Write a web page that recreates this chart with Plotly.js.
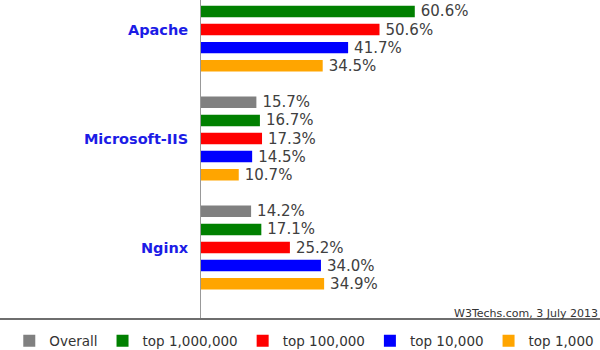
<!DOCTYPE html>
<html>
<head>
<meta charset="utf-8">
<script src="https://cdn.plot.ly/plotly-3.0.1.min.js"></script>
<style>
  html, body { margin: 0; padding: 0; background: #fff; }
  #chart { width: 600px; height: 350px; }
</style>
</head>
<body>
<div id="chart"></div>
<script>
// ---- data ----
var categories = ['Apache', 'Microsoft-IIS', 'Nginx'];
var seriesNames = ['Overall', 'top 1,000,000', 'top 100,000', 'top 10,000', 'top 1,000'];
var overall  = [null, 15.7, 14.2];   // Apache "Overall" bar is cropped out of the reference
var top1m    = [60.6, 16.7, 17.1];
var top100k  = [50.6, 17.3, 25.2];
var top10k   = [41.7, 14.5, 34.0];
var top1k    = [34.5, 10.7, 34.9];
var sourceNote = 'W3Techs.com, 3 July 2013';

// ---- style ----
var seriesValues = [overall, top1m, top100k, top10k, top1k];
var seriesColors = ['#808080', '#008000', '#ff0000', '#0000ff', '#ffa500'];
var FONT = 'DejaVu Sans, Verdana, sans-serif';

var traces = seriesValues.map(function (vals, i) {
  var ys = [], xs = [];
  vals.forEach(function (v, j) {
    if (v !== null) { ys.push(categories[j]); xs.push(v); }
  });
  return {
    type: 'bar',
    orientation: 'h',
    name: seriesNames[i],
    y: ys,
    x: xs,
    marker: { color: seriesColors[i], line: { width: 0 } },
    texttemplate: '\u2009%{x:.1f}%',
    textposition: 'outside',
    textangle: 0,
    constraintext: 'none',
    cliponaxis: true,
    textfont: { family: FONT, size: 15, color: '#404040' },
    hoverinfo: 'skip'
  };
});

var layout = {
  width: 600,
  height: 350,
  margin: { l: 201, r: 0, t: 0, b: 31, autoexpand: false },
  paper_bgcolor: '#ffffff',
  plot_bgcolor: '#ffffff',
  barmode: 'group',
  bargap: 0.17,
  bargroupgap: 0.365,
  showlegend: true,
  legend: {
    orientation: 'h',
    x: -0.4805, xanchor: 'left',
    y: -0.069, yanchor: 'middle',
    font: { family: FONT, size: 13.5, color: '#333333' },
    bgcolor: 'rgba(0,0,0,0)',
    borderwidth: 0
  },
  xaxis: {
    visible: false,
    range: [0, 113.1],
    fixedrange: true
  },
  yaxis: {
    type: 'category',
    categoryorder: 'array',
    categoryarray: categories,
    range: [2.656, -0.271],
    showline: true,
    linecolor: '#999999',
    linewidth: 1,
    showgrid: false,
    zeroline: false,
    ticks: '',
    ticklabelstandoff: 9,
    tickfont: { family: FONT, size: 14.5, color: '#1c1ce6', weight: 'bold' },
    fixedrange: true
  },
  shapes: [{
    type: 'line',
    xref: 'paper', yref: 'paper',
    x0: -201 / 399, x1: 1, y0: 0, y1: 0,
    line: { color: '#6e6e6e', width: 2 }
  }],
  annotations: [{
    text: sourceNote,
    xref: 'paper', yref: 'paper',
    x: 0.6291, xanchor: 'left',
    y: 0.0188, yanchor: 'middle',
    showarrow: false,
    font: { family: FONT, size: 11, color: '#333333' }
  }]
};

Plotly.newPlot('chart', traces, layout, { staticPlot: true, displayModeBar: false });
</script>
</body>
</html>
